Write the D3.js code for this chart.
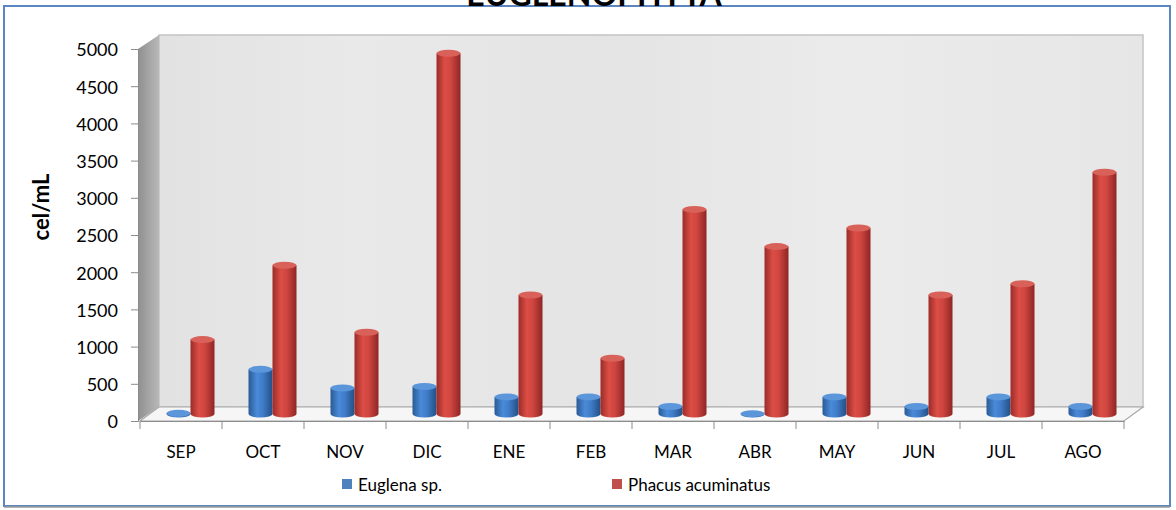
<!DOCTYPE html>
<html>
<head>
<meta charset="utf-8">
<script src="https://cdn.jsdelivr.net/npm/d3@7"></script>
<style>
  body { margin: 0; background: #fff; }
  svg text { font-family: Lato, "Liberation Sans", sans-serif; fill: #000; }
</style>
</head>
<body>
<div id="chart"></div>
<script>
// chart data
var months = ["SEP", "OCT", "NOV", "DIC", "ENE", "FEB", "MAR", "ABR", "MAY", "JUN", "JUL", "AGO"];
var seriesNames = ["Euglena sp.", "Phacus acuminatus"];
var euglena = [10, 600, 350, 370, 230, 230, 100, 5, 230, 100, 230, 100];
var phacus = [1000, 2000, 1100, 4850, 1600, 750, 2750, 2250, 2500, 1600, 1750, 3250];
var yTicks = [0, 500, 1000, 1500, 2000, 2500, 3000, 3500, 4000, 4500, 5000];
var seriesColors = ["#4f81bd", "#c0504d"];

function drawChart() {
  var width = 1176, height = 510;
  var depthX = 19, depthY = -14;   // 3d offset of back wall

  var svg = d3.select("#chart").append("svg")
    .attr("width", width)
    .attr("height", height);

  var defs = svg.append("defs");

  var x = d3.scaleBand().domain(months).range([140, 1124]);
  var x1 = d3.scaleBand().domain(seriesNames).range([-24, 24]);
  var y = d3.scaleLinear().domain([0, 5000]).range([421, 49]);

  // gradients
  var wallGrad = defs.append("linearGradient").attr("id", "wall")
    .attr("x1", 0).attr("y1", 0).attr("x2", 1).attr("y2", 0);
  [["0%", "#e2e2e2"], ["20%", "#e9e9e9"], ["45%", "#e4e4e4"], ["70%", "#ebebeb"], ["100%", "#e6e6e6"]]
    .forEach(function(s) { wallGrad.append("stop").attr("offset", s[0]).attr("stop-color", s[1]); });
  var sideGrad = defs.append("linearGradient").attr("id", "side")
    .attr("x1", 0).attr("y1", 0).attr("x2", 1).attr("y2", 0);
  sideGrad.append("stop").attr("offset", "0%").attr("stop-color", "#909090");
  sideGrad.append("stop").attr("offset", "100%").attr("stop-color", "#b8b8b8");

  var cylStops = [
    [["0%", "#2a5a96"], ["35%", "#4a8ad8"], ["60%", "#3f7cc8"], ["100%", "#244f86"]],
    [["0%", "#9c2b28"], ["35%", "#dc4e46"], ["60%", "#cf4540"], ["100%", "#8e2624"]]
  ];
  cylStops.forEach(function(stops, i) {
    var g = defs.append("linearGradient").attr("id", "cyl" + i)
      .attr("x1", 0).attr("y1", 0).attr("x2", 1).attr("y2", 0);
    stops.forEach(function(s) { g.append("stop").attr("offset", s[0]).attr("stop-color", s[1]); });
  });
  var topColors = ["#5b95da", "#d8625a"];

  var x0 = x.range()[0], xEnd = x.range()[1];
  var yBase = y(0), yTop = y(5000);

  // back wall
  svg.append("rect")
    .attr("x", x0 + depthX).attr("y", yTop + depthY)
    .attr("width", xEnd - x0).attr("height", yBase - yTop)
    .attr("fill", "url(#wall)")
    .attr("stroke", "#c4c4c4").attr("stroke-width", 1.5);

  // left wall
  svg.append("polygon")
    .attr("points", [[x0 - 2, yTop], [x0 + depthX, yTop + depthY], [x0 + depthX, yBase + depthY], [x0 - 2, yBase]].join(" "))
    .attr("fill", "url(#side)");

  // floor
  svg.append("polygon")
    .attr("points", [[x0, yBase], [xEnd, yBase], [xEnd + depthX, yBase + depthY], [x0 + depthX, yBase + depthY]].join(" "))
    .attr("fill", "#f6f6f6")
    .attr("stroke", "#a8a8a8").attr("stroke-width", 1.2);

  // y axis
  var yAxis = svg.append("g").attr("transform", "translate(138,0)")
    .call(d3.axisLeft(y).tickValues(yTicks).tickSize(7).tickPadding(13).tickFormat(d3.format("d")));
  yAxis.select(".domain").attr("stroke", "#8c8c8c");
  yAxis.selectAll(".tick line").attr("stroke", "#8c8c8c");
  yAxis.selectAll("text").style("font-size", "18px").attr("dy", "0.38em");

  // x axis
  var xAxis = svg.append("g").attr("transform", "translate(0," + yBase + ")")
    .call(d3.axisBottom(x).tickSize(0).tickPadding(25));
  xAxis.select(".domain").attr("stroke", "#8c8c8c");
  xAxis.selectAll("text").style("font-size", "17px");
  xAxis.selectAll(".bound").data(months.concat(["end"])).enter().append("line")
    .attr("x1", function(d, i) { return x0 + i * x.bandwidth(); })
    .attr("x2", function(d, i) { return x0 + i * x.bandwidth(); })
    .attr("y1", 0).attr("y2", 8)
    .attr("stroke", "#8c8c8c");

  // cylinders
  var rx = x1.bandwidth() / 2, ry = 3.5;
  var midX = depthX / 2, midY = depthY / 2;
  var allSeries = [euglena, phacus];
  allSeries.forEach(function(values, si) {
    var g = svg.append("g");
    values.forEach(function(v, i) {
      var cx = x(months[i]) + x.bandwidth() / 2 + midX + x1(seriesNames[si]) + rx;
      var cb = yBase + midY;
      var ct = y(v) + midY;
      g.append("path")
        .attr("d", "M" + (cx - rx) + "," + ct + " L" + (cx - rx) + "," + cb +
          " A" + rx + "," + ry + " 0 0 0 " + (cx + rx) + "," + cb +
          " L" + (cx + rx) + "," + ct + " Z")
        .attr("fill", "url(#cyl" + si + ")");
      g.append("ellipse")
        .attr("cx", cx).attr("cy", ct).attr("rx", rx).attr("ry", ry)
        .attr("fill", topColors[si]);
    });
  });

  // y label
  svg.append("text")
    .attr("transform", "translate(49,207) rotate(-90)")
    .attr("text-anchor", "middle")
    .style("font-size", "22px").style("font-weight", "bold")
    .text("cel/mL");

  // legend
  var legendX = [342, 612];
  seriesNames.forEach(function(name, i) {
    svg.append("rect").attr("x", legendX[i]).attr("y", 479)
      .attr("width", 10).attr("height", 10).attr("fill", seriesColors[i]);
    svg.append("text").attr("x", legendX[i] + 16).attr("y", 491)
      .style("font-size", "17px").text(name);
  });

  // border
  svg.append("rect").attr("x", 4).attr("y", 6).attr("width", 1166).attr("height", 500)
    .attr("fill", "none").attr("stroke", "#5b86c0").attr("stroke-width", 2);
  svg.append("line").attr("x1", 4).attr("x2", 1170).attr("y1", 507).attr("y2", 507)
    .attr("stroke", "#9a9a9a").attr("stroke-width", 1.5);

  // title, cut off at the top
  svg.append("text")
    .attr("x", 594).attr("y", 6)
    .attr("text-anchor", "middle")
    .style("font-size", "32px").style("font-weight", "bold")
    .text("EUGLENOPHYTA");
}
drawChart();
</script>
</body>
</html>
